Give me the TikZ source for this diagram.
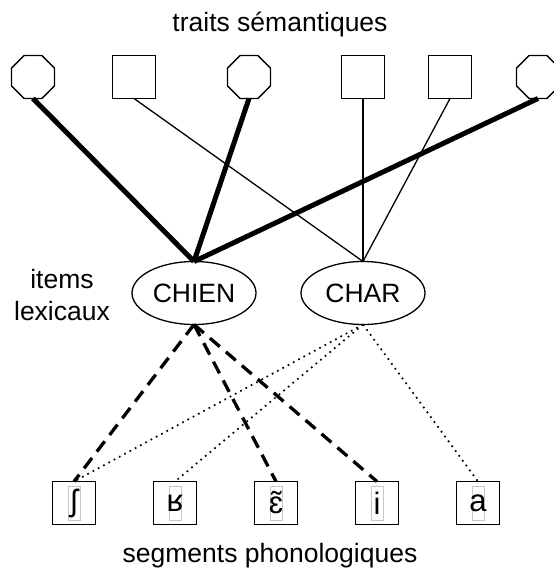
\documentclass[tikz,border=0pt]{standalone}
\usepackage{fontspec}
\setmainfont{Liberation Sans}
\usetikzlibrary{positioning, shapes.geometric}

\begin{document}
\begin{tikzpicture}[
    x=1pt, y=-1pt,
    every node/.style={font=\fontsize{26.5}{32}\selectfont},
    trait/.style={
      regular polygon, regular polygon sides=8,
      minimum size=46.5pt, inner sep=0pt, outer sep=0pt,
      draw, line width=1.3pt,
    },
    carre/.style={
      rectangle, minimum size=43pt, inner sep=0pt, outer sep=0pt,
      draw, line width=1.3pt,
    },
    item/.style={
      ellipse, minimum width=124pt, minimum height=63pt,
      inner sep=0pt, outer sep=0pt,
      draw, line width=1.3pt,
    },
    segment/.style={
      rectangle, minimum size=43pt, inner sep=0pt, outer sep=0pt,
      draw, line width=1.4pt, font=\fontsize{31}{34}\selectfont,
      path picture={
        \draw[black!22, line width=0.6pt]
          ([xshift=-6pt, yshift=-17pt]path picture bounding box.center)
          rectangle ([xshift=6pt, yshift=17pt]path picture bounding box.center);
      },
    },
    fort/.style={line width=5pt},
    fin/.style={line width=1.3pt},
    tiret/.style={line width=3.3pt, dash pattern=on 13pt off 8pt},
    pointille/.style={line width=1.7pt, dash pattern=on 1.7pt off 4.3pt},
  ]
  \useasboundingbox (0,0) rectangle (553,569);

  \node[anchor=base] (titre) at (280,32) {traits sémantiques};

  \node[trait] (t1) at (33,77) {};
  \node[carre] (t2) at (134,77) {};
  \node[trait] (t3) at (249,77) {};
  \node[carre] (t4) at (363,77) {};
  \node[carre] (t5) at (450,77) {};
  \node[trait] (t6) at (538,77) {};

  \node[item] (chien) at (194,293) {CHIEN};
  \node[item, right=45pt of chien] (char) {CHAR};
  \node[align=center] (lex) at (62,295) {items\\lexicaux};

  \node[segment] (s1) at (74,503) {ʃ};
  \node[segment, right=58pt of s1] (s2) {ʁ};
  \node[segment, right=58pt of s2] (s3) {ɛ̃};
  \node[segment, right=58pt of s3] (s4) {i};
  \node[segment, right=58pt of s4] (s5) {a};

  \node[anchor=base] (phono) at (270,562) {segments phonologiques};

  \draw[fort] (t1.south) -- (chien.north);
  \draw[fort] (t3.south) -- (chien.north);
  \draw[fort] (t6.south) -- (chien.north);
  \draw[fin] (t2.south) -- (char.north);
  \draw[fin] (t4.south) -- (char.north);
  \draw[fin] (t5.south) -- (char.north);

  \draw[tiret] (chien.south) -- (s1.north);
  \draw[tiret] (chien.south) -- (s3.north);
  \draw[tiret] (chien.south) -- (s4.north);
  \draw[pointille] (char.south) -- (s1.north);
  \draw[pointille] (char.south) -- (s2.north);
  \draw[pointille] (char.south) -- (s5.north);
\end{tikzpicture}
\end{document}
